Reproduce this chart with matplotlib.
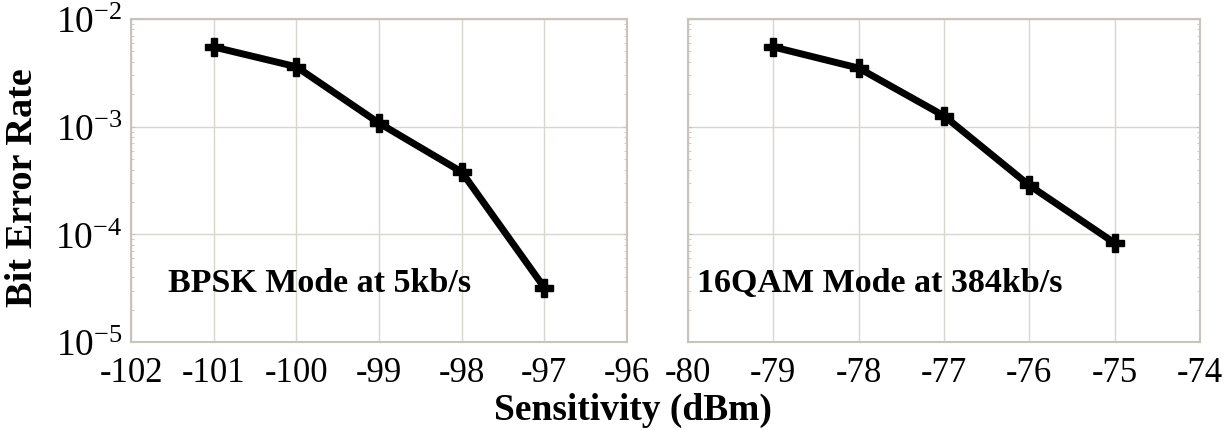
import numpy as np
import matplotlib.pyplot as plt

# data
bpsk_x = [-101, -100, -99, -98, -97]
bpsk_ber = [5.5e-3, 3.6e-3, 1.08e-3, 3.8e-4, 3.2e-5]
qam_x = [-79, -78, -77, -76, -75]
qam_ber = [5.5e-3, 3.5e-3, 1.26e-3, 2.85e-4, 8.3e-5]
bpsk_ticks = [-102, -101, -100, -99, -98, -97, -96]
qam_ticks = [-80, -79, -78, -77, -76, -75, -74]

plt.rcParams['font.family'] = 'Liberation Serif'
plt.rcParams['mathtext.fontset'] = 'stix'

fig = plt.figure(figsize=(12.25, 4.31), dpi=100)
ax1 = fig.add_axes([131/1225, 1-343/431, 496/1225, 323/431])
ax2 = fig.add_axes([688/1225, 1-343/431, 512/1225, 323/431])

grid_c = '#d9d6d0'
for ax, x, y, ticks in [(ax1, bpsk_x, bpsk_ber, bpsk_ticks),
                        (ax2, qam_x, qam_ber, qam_ticks)]:
    ax.plot(x, y, color='black', lw=5, marker='P', ms=13, zorder=3)
    ax.set_yscale('log')
    ax.set_ylim(1e-5, 1e-2)
    ax.set_xlim(ticks[0], ticks[-1])
    ax.set_xticks(ticks)
    ax.set_xticklabels([str(t) for t in ticks])
    ax.grid(True, color=grid_c, lw=1)
    for s in ax.spines.values():
        s.set_color('#c8c4bc')
        s.set_linewidth(1.5)
    ax.tick_params(axis='both', which='both', direction='in', color='#c8c4bc',
                   labelsize=25, right=True, top=False)
    ax.tick_params(axis='x', length=0, pad=10)
    ax.tick_params(axis='y', which='major', length=3)
    ax.tick_params(axis='y', which='minor', length=2)
    ax.set_axisbelow(True)

ax1.tick_params(axis='y', labelsize=27, pad=6)
ax2.tick_params(axis='y', labelleft=False)

ax1.text(-101.55, 2.95e-5, 'BPSK Mode at 5kb/s', fontsize=24.5, fontweight='bold', va='baseline')
ax2.text(-79.89, 2.95e-5, '16QAM Mode at 384kb/s', fontsize=24.5, fontweight='bold', va='baseline')

fig.text(23/1225, 1-188/431, 'Bit Error Rate', rotation=90, fontsize=27.5, fontweight='bold',
         ha='center', va='center')
fig.text(633/1225, 1-410/431, 'Sensitivity (dBm)', fontsize=27, fontweight='bold',
         ha='center', va='center')

plt.savefig('out.png', dpi=100)
